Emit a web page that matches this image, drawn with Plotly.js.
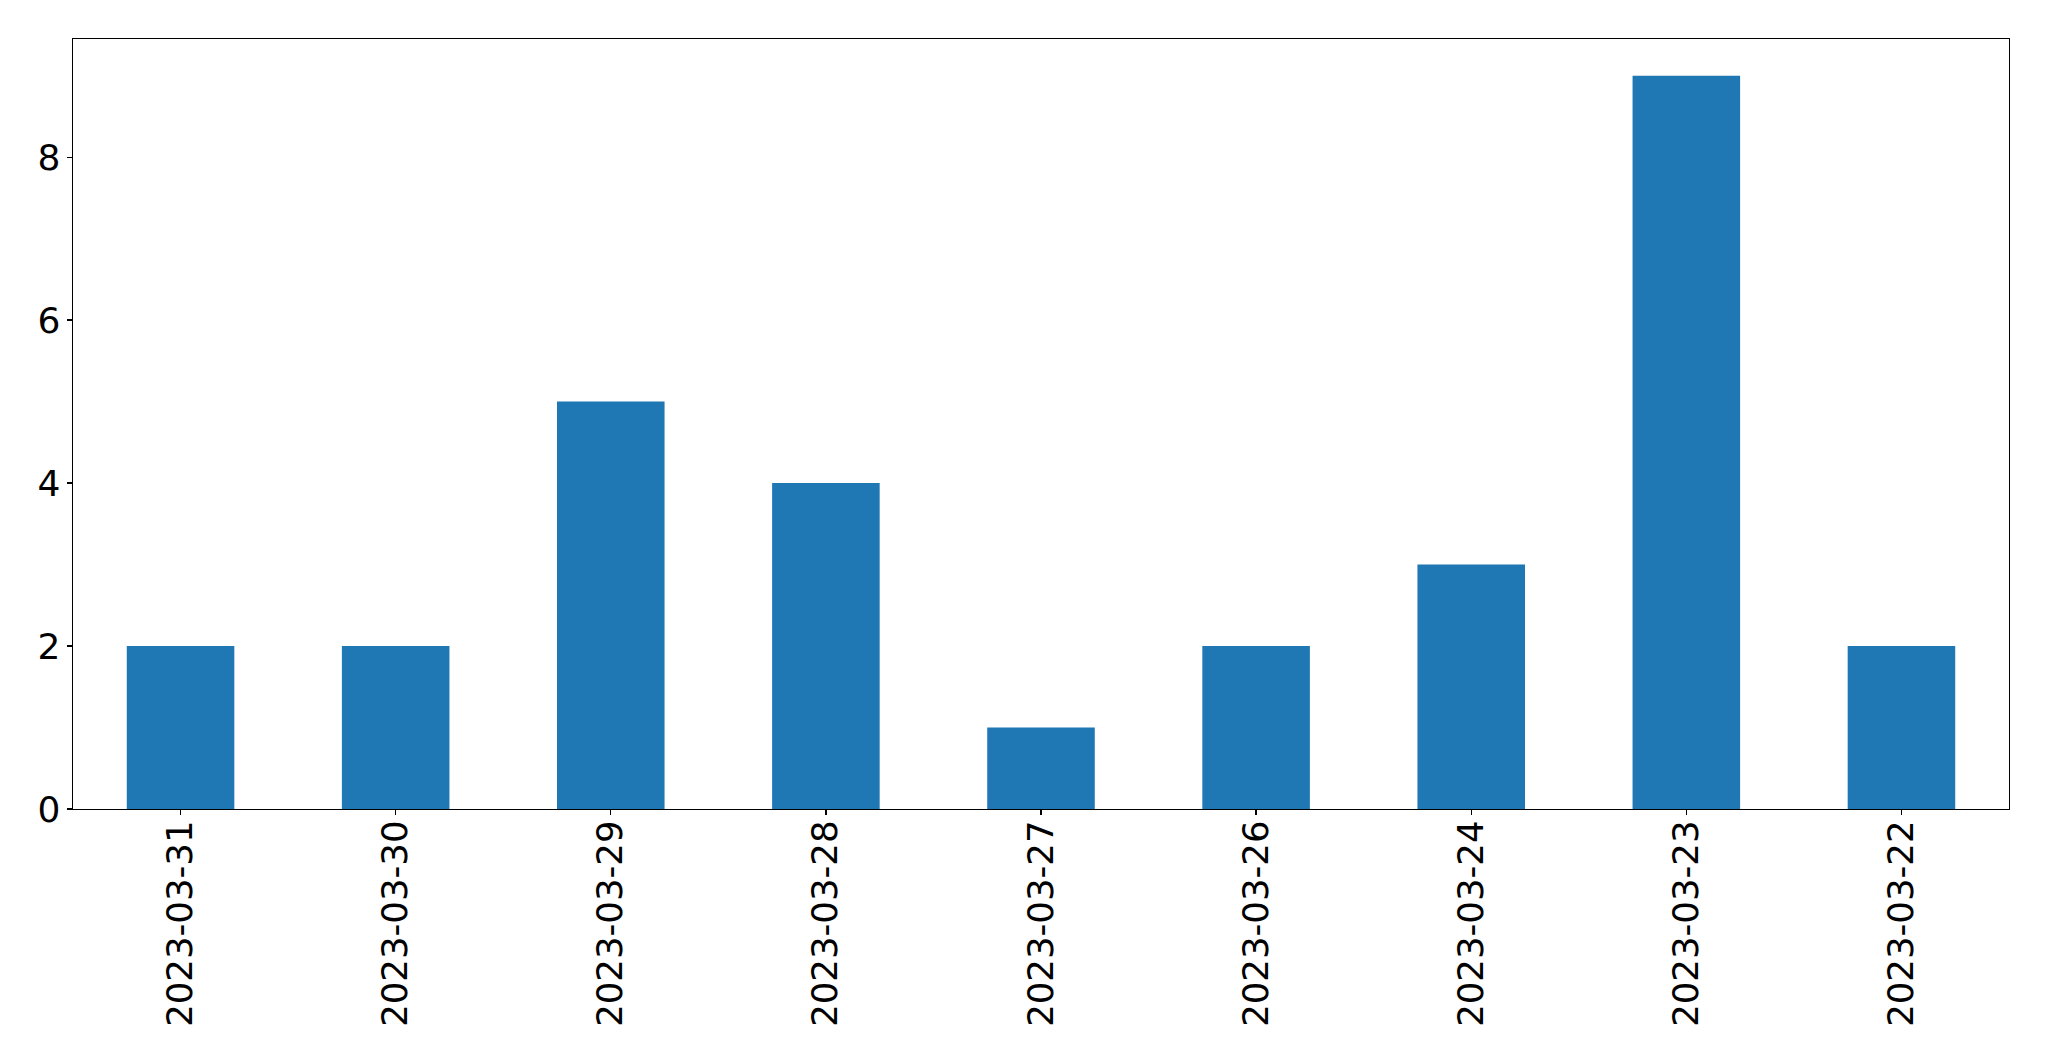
<!DOCTYPE html>
<html>
<head>
<meta charset="utf-8">
<script src="https://cdn.plot.ly/plotly-3.0.1.min.js"></script>
<style>html,body{margin:0;padding:0;background:#fff;}#chart{width:2049px;height:1061px;}</style>
</head>
<body>
<div id="chart"></div>
<script>
const categories = ["2023-03-31","2023-03-30","2023-03-29","2023-03-28","2023-03-27","2023-03-26","2023-03-24","2023-03-23","2023-03-22"];
const counts = [2, 2, 5, 4, 1, 2, 3, 9, 2];
const yTicks = [0, 2, 4, 6, 8];

const trace = {
  type: 'bar',
  x: categories,
  y: counts,
  width: 0.5,
  marker: {color: '#1f77b4', line: {width: 0}},
  hoverinfo: 'x+y'
};

const layout = {
  width: 2049,
  height: 1061,
  margin: {l: 72.5, r: 40, t: 39, b: 252, pad: 0},
  paper_bgcolor: '#ffffff',
  plot_bgcolor: '#ffffff',
  showlegend: false,
  font: {family: 'DejaVu Sans', size: 36, color: '#000000'},
  xaxis: {
    type: 'category',
    range: [-0.5, 8.5],
    showgrid: false,
    zeroline: false,
    showline: true,
    mirror: true,
    linecolor: '#000000',
    linewidth: 1.3,
    ticks: 'outside',
    ticklen: 5,
    tickwidth: 1.3,
    tickcolor: '#000000',
    tickangle: -90,
    ticklabelstandoff: -9,
    tickfont: {family: 'DejaVu Sans', size: 35.5, color: '#000000'}
  },
  yaxis: {
    range: [0, 9.45],
    tickvals: yTicks,
    ticktext: yTicks.map(String),
    showgrid: false,
    zeroline: false,
    showline: true,
    mirror: true,
    linecolor: '#000000',
    linewidth: 1.3,
    ticks: 'outside',
    ticklen: 5,
    tickwidth: 1.3,
    tickcolor: '#000000',
    ticklabelstandoff: -1,
    tickfont: {family: 'DejaVu Sans', size: 36, color: '#000000'}
  },
  bargap: 0.5
};

Plotly.newPlot('chart', [trace], layout, {staticPlot: true, displayModeBar: false});
</script>
</body>
</html>
